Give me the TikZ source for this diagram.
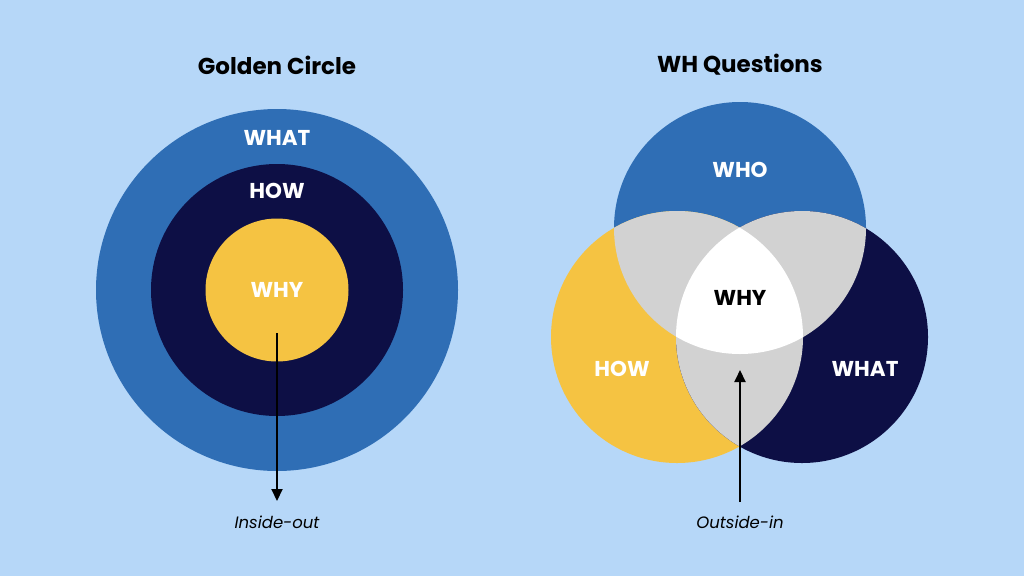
\documentclass[tikz,border=0pt]{standalone}
\usepackage{fontspec}
\setmainfont{Poppins}
\usetikzlibrary{arrows.meta}
\definecolor{bgblue}{HTML}{B6D7F8}
\definecolor{midblue}{HTML}{2F6EB5}
\definecolor{navy}{HTML}{0D0F45}
\definecolor{gold}{HTML}{F5C342}
\definecolor{lightgray}{HTML}{D2D2D2}
\tikzset{
  title/.style={font=\bfseries\fontsize{23}{26}\selectfont, text=black},
  lbl/.style={font=\bfseries\fontsize{21.5}{24}\selectfont, text=white},
  note/.style={font=\itshape\fontsize{16.5}{19}\selectfont, text=black},
  ring/.style={circle, inner sep=0pt, minimum size=#1}
}
\begin{document}
\begin{tikzpicture}[x=1pt, y=-1pt]
	\fill[bgblue] (0,0) rectangle (1024,576);
	\useasboundingbox (0,0) rectangle (1024,576);
	% golden circle
	\node[title] (gc) at (277,65) {Golden Circle};
	\node[ring=362pt, fill=midblue] (what) at (277,290) {};
	\node[ring=252pt, fill=navy] (how) at (277,290) {};
	\node[ring=143pt, fill=gold] (why) at (277,290) {};
	\node[lbl] at (277,138) {WHAT};
	\node[lbl] at (277,191) {HOW};
	\node[lbl] at (277,290) {WHY};
	\coordinate (a1) at (277,333);
	\coordinate (a1e) at (277,501);
	\node[note] (io) at (277,522) {Inside-out};
	\draw[line width=2pt, -{Triangle[length=12pt,width=11pt]}] (a1) -- (a1e);
	% wh questions
	\node[title] (wh) at (740,65) {WH Questions};
	\def\cwho{(740,228) circle (126)}
	\def\chow{(677,337) circle (126)}
	\def\cwhat{(802,337) circle (126)}
	\fill[midblue] \cwho;
	\fill[gold] \chow;
	\fill[navy] \cwhat;
	\begin{scope}\clip \cwho; \fill[lightgray] \chow; \fill[lightgray] \cwhat; \end{scope}
	\begin{scope}\clip \chow; \fill[lightgray] \cwhat; \end{scope}
	\begin{scope}\clip \cwho; \clip \chow; \fill[white] \cwhat; \end{scope}
	\node[lbl] at (740,170) {WHO};
	\node[lbl] at (622,369) {HOW};
	\node[lbl] at (865,369) {WHAT};
	\node[lbl, text=black] at (740,298) {WHY};
	\coordinate (a2) at (740,370);
	\coordinate (a2s) at (740,502);
	\node[note] (oi) at (740,522) {Outside-in};
	\draw[line width=2pt, -{Triangle[length=12pt,width=11pt]}] (a2s) -- (a2);
\end{tikzpicture}
\end{document}
